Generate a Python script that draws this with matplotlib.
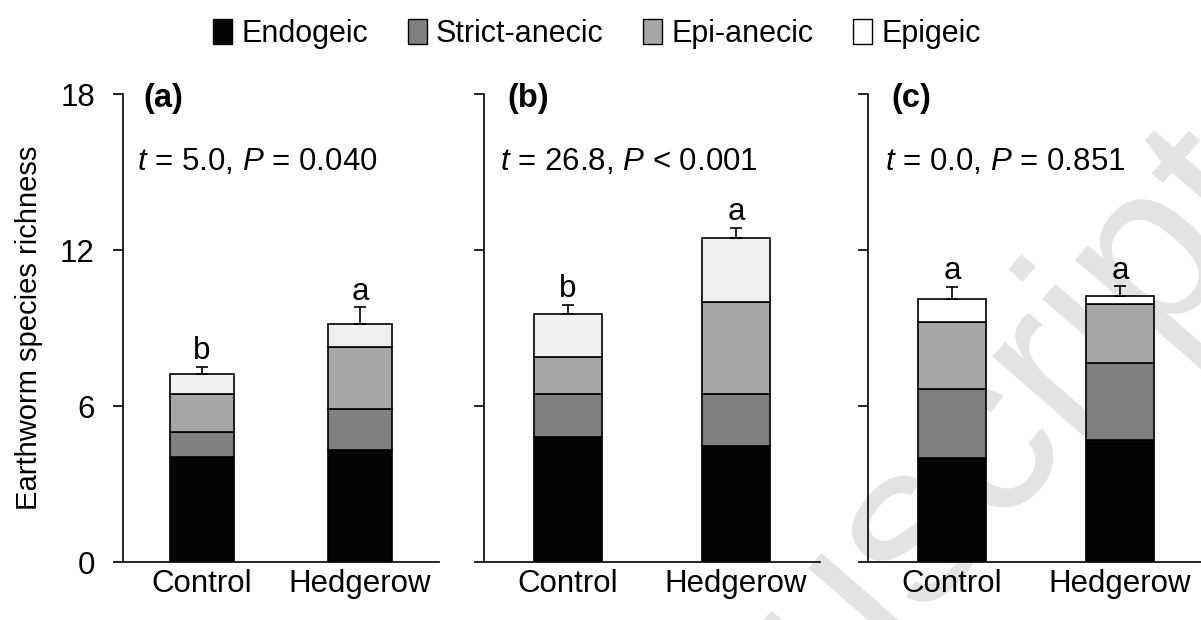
import numpy as np
import matplotlib
matplotlib.use('Agg')
import matplotlib.pyplot as plt
from matplotlib.patches import Patch

plt.rcParams['font.family'] = ['Liberation Sans', 'DejaVu Sans']
plt.rcParams['mathtext.fontset'] = 'custom'
plt.rcParams['mathtext.rm'] = 'Liberation Sans'
plt.rcParams['mathtext.it'] = 'Liberation Sans:italic'

# ---------------- data ----------------
groups = ['Control', 'Hedgerow']
panels = ['(a)', '(b)', '(c)']
stats = [r'$t$ = 5.0, $P$ = 0.040', r'$t$ = 26.8, $P$ < 0.001', r'$t$ = 0.0, $P$ = 0.851']
endogeic = [[4.03, 4.29], [4.81, 4.47], [4.02, 4.71]]
strict_anecic = [[0.96, 1.59], [1.64, 1.98], [2.65, 2.96]]
epi_anecic = [[1.46, 2.40], [1.43, 3.54], [2.57, 2.24]]
epigeic = [[0.78, 0.86], [1.67, 2.47], [0.87, 0.33]]
se = [[0.28, 0.66], [0.34, 0.40], [0.47, 0.36]]
letters = [['b', 'a'], ['b', 'a'], ['a', 'a']]

layer_names = ['Endogeic', 'Strict-anecic', 'Epi-anecic', 'Epigeic']
layer_colors = ['#050505', '#808080', '#a6a6a6', '#f0f0f0']
epigeic_colors = ['#f0f0f0', '#f0f0f0', '#ffffff']

# ---------------- figure ----------------
fig = plt.figure(figsize=(12.01, 6.2), dpi=100)
bottom, height = 0.0935, 0.7548
lefts = [0.1024, 0.403, 0.7227]
widths = [0.2631, 0.2798, 0.2798]
stat_x = [0.044, 0.048, 0.051]
lab_x = [0.063, 0.071, 0.071]

# faint watermark behind everything
fig.text(0.72, 0.07, 'Manuscript', fontsize=165, color='#e3e3e3', rotation=49,
         ha='center', va='center', zorder=-5)

x = np.arange(len(groups))
for i in range(3):
    ax = fig.add_axes([lefts[i], bottom, widths[i], height])
    ax.patch.set_alpha(0)
    layers = [endogeic[i], strict_anecic[i], epi_anecic[i], epigeic[i]]
    cols = layer_colors[:3] + [epigeic_colors[i]]
    base = np.zeros(2)
    for vals, c in zip(layers, cols):
        ax.bar(x, vals, width=0.405, bottom=base, color=c, edgecolor='black',
               linewidth=1.2, zorder=2)
        base = base + np.array(vals)
    ax.errorbar(x, base, yerr=[np.zeros(2), se[i]], fmt='none', ecolor='black',
                elinewidth=1.2, capsize=4.3, capthick=1.2, zorder=3)
    for j in range(2):
        ax.text(x[j], base[j] + se[i][j] + 0.02, letters[i][j], ha='center',
                va='bottom', fontsize=22.5)

    ax.set_xlim(-0.5, 1.5)
    ax.set_ylim(0, 18)
    ax.set_yticks([0, 6, 12, 18])
    ax.set_xticks(x)
    ax.set_xticklabels(groups, fontsize=22.5)
    ax.tick_params(axis='x', length=0, pad=5)
    ax.tick_params(axis='y', direction='out', length=7.2, width=1.2, labelsize=22.5, pad=13)
    if i > 0:
        ax.set_yticklabels([])
    for s in ['top', 'right']:
        ax.spines[s].set_visible(False)
    for s in ['left', 'bottom']:
        ax.spines[s].set_linewidth(1.2)
    ax.text(lab_x[i], 0.99, panels[i], transform=ax.transAxes, fontsize=23.5,
            fontweight='bold', va='center', ha='left')
    ax.text(stat_x[i], 0.855, stats[i], transform=ax.transAxes, fontsize=22.5,
            va='center', ha='left')
    if i == 0:
        ax.set_ylabel('Earthworm species richness', fontsize=21, labelpad=12)

handles = [Patch(facecolor=c, edgecolor='black', linewidth=1.0) for c in layer_colors[:3] + ['#ffffff']]
fig.legend(handles, layer_names, loc='center', bbox_to_anchor=(0.497, 0.945), ncol=4,
           frameon=False, fontsize=22, handlelength=0.62, handleheight=0.85,
           handletextpad=0.3, columnspacing=1.3)

fig.savefig('out.png', dpi=100)
